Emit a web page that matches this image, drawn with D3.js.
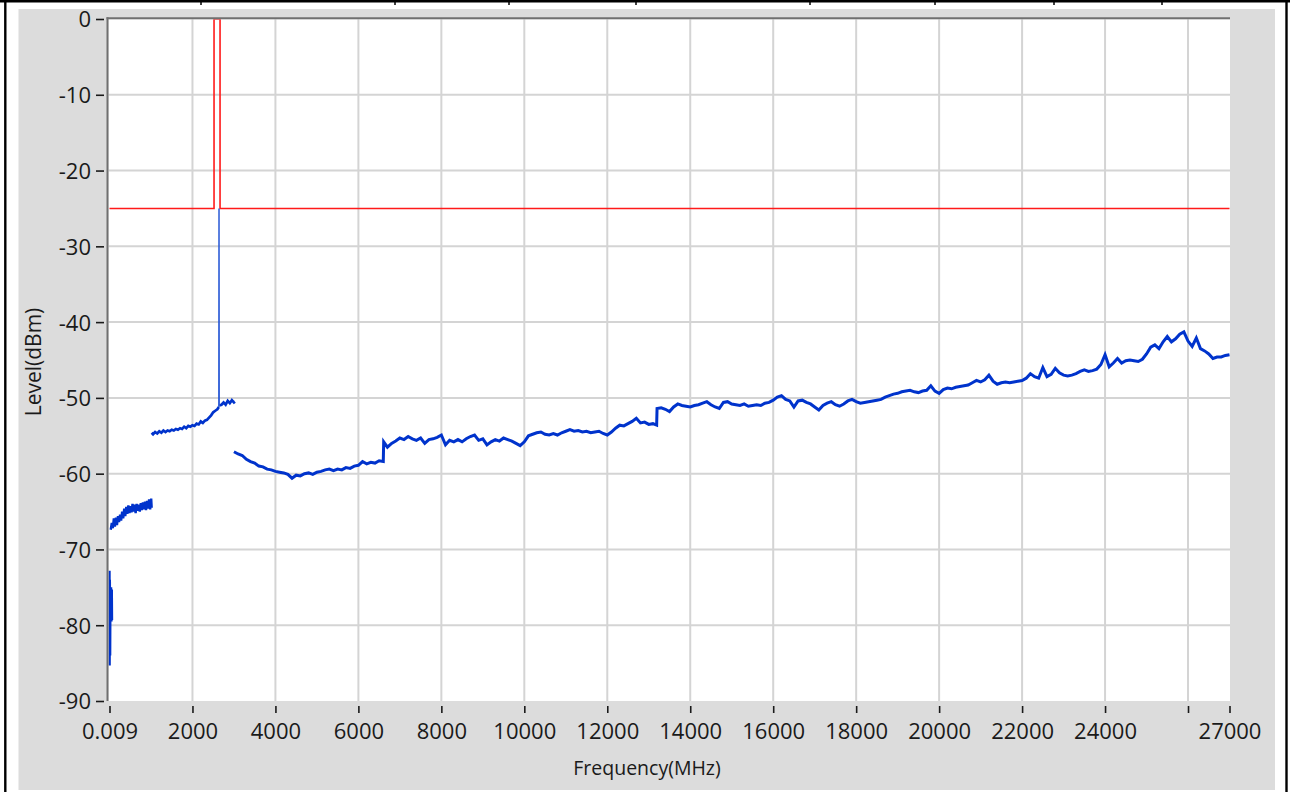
<!DOCTYPE html>
<html>
<head>
<meta charset="utf-8">
<script src="https://cdn.jsdelivr.net/npm/d3@7"></script>
<style>
  html, body { margin: 0; padding: 0; background: #ffffff; }
  svg { display: block; font-family: "Open Sans", "Noto Sans", sans-serif; }
</style>
</head>
<body>
<svg id="chart" width="1290" height="792"></svg>
<script>
// ---- axis definitions ----
const freqDomain = [0.009, 27000];
const levelDomain = [-90, 0];
const freqTicks = [0.009, 2000, 4000, 6000, 8000, 10000, 12000, 14000, 16000, 18000, 20000, 22000, 24000, 26000, 27000];
const freqTickLabels = ["0.009", "2000", "4000", "6000", "8000", "10000", "12000", "14000", "16000", "18000", "20000", "22000", "24000", "", "27000"];
const levelTicks = [0, -10, -20, -30, -40, -50, -60, -70, -80, -90];
const freqGrid = [2000, 4000, 6000, 8000, 10000, 12000, 14000, 16000, 18000, 20000, 22000, 24000, 26000];
const levelGrid = [-10, -20, -30, -40, -50, -60, -70, -80];

// ---- limit mask (MHz, dBm) ----
const limitFreq  = [0.009, 2520, 2520, 2665, 2665, 27000];
const limitLevel = [-25,   -25,  0,    0,    -25,  -25];

// ---- measured trace, sweep segments (MHz, dBm) ----
const sweep1Freq  = [0.009, 3, 8, 15, 22, 30, 38, 46, 55, 60];
const sweep1Level = [-72.8, -85.3, -74.0, -84.0, -75.2, -79.4, -75.0, -79.5, -75.3, -79.3];

const sweep2Freq  = [30, 55, 80, 105, 130, 155, 180, 205, 230, 255, 280, 305, 330, 355, 380, 405, 430, 455, 480, 505, 530, 555, 580, 605, 630, 655, 680, 705, 730, 755, 780, 805, 830, 855, 880, 905, 930, 955, 980, 1005, 1017];
const sweep2Level = [-67.4, -66.5, -67.2, -65.9, -67.0, -65.8, -66.8, -65.6, -66.4, -65.4, -66.2, -65.0, -65.9, -64.6, -65.6, -64.4, -65.3, -64.2, -65.2, -64.3, -65.1, -64.0, -65.0, -64.1, -65.2, -64.0, -64.9, -64.1, -65.0, -63.9, -64.8, -63.8, -64.7, -63.7, -64.8, -63.6, -64.6, -63.4, -64.7, -63.3, -64.5];

const sweep3Freq  = [1017, 1050, 1100, 1150, 1200, 1250, 1300, 1350, 1400, 1450, 1500, 1550, 1600, 1650, 1700, 1750, 1800, 1850, 1900, 1950, 2000, 2050, 2100, 2150, 2200, 2250, 2300, 2350, 2400, 2450, 2500, 2550, 2600, 2636, 2640, 2644, 2700, 2750, 2800, 2850, 2900, 2950, 3000, 3025];
const sweep3Level = [-54.6, -54.8, -54.5, -54.7, -54.4, -54.6, -54.3, -54.5, -54.3, -54.4, -54.2, -54.3, -54.1, -54.2, -54.0, -54.1, -53.8, -54.0, -53.7, -53.8, -53.6, -53.7, -53.4, -53.5, -53.1, -53.3, -53.0, -52.9, -52.6, -52.3, -51.9, -51.7, -51.5, -51.2, -25.0, -51.0, -50.9, -50.6, -50.9, -50.4, -50.7, -50.3, -50.6, -50.5];

const sweep4Freq  = [
  3000, 3100, 3200, 3300, 3400, 3500, 3600, 3700, 3800, 3900,
  4000, 4100, 4200, 4300, 4400, 4500, 4600, 4700, 4800, 4900,
  5000, 5100, 5200, 5300, 5400, 5500, 5600, 5700, 5800, 5900,
  6000, 6100, 6200, 6300, 6400, 6500, 6600, 6610, 6700, 6800, 6900,
  7000, 7100, 7200, 7300, 7400, 7500, 7600, 7700, 7800, 7900,
  8000, 8100, 8200, 8300, 8400, 8500, 8600, 8700, 8800, 8900,
  9000, 9100, 9200, 9300, 9400, 9500, 9600, 9700, 9800, 9900,
  10000, 10100, 10200, 10300, 10400, 10500, 10600, 10700, 10800, 10900,
  11000, 11100, 11200, 11300, 11400, 11500, 11600, 11700, 11800, 11900,
  12000, 12100, 12200, 12300, 12400, 12500, 12600, 12700, 12800, 12900,
  13000, 13100, 13190, 13200, 13300, 13400, 13500, 13600, 13700, 13800, 13900,
  14000, 14100, 14200, 14300, 14400, 14500, 14600, 14700, 14800, 14900,
  15000, 15100, 15200, 15300, 15400, 15500, 15600, 15700, 15800, 15900,
  16000, 16100, 16200, 16300, 16400, 16500, 16600, 16700, 16800, 16900,
  17000, 17100, 17200, 17300, 17400, 17500, 17600, 17700, 17800, 17900,
  18000, 18100, 18200, 18300, 18400, 18500, 18600, 18700, 18800, 18900,
  19000, 19100, 19200, 19300, 19400, 19500, 19600, 19700, 19800, 19900,
  20000, 20100, 20200, 20300, 20400, 20500, 20600, 20700, 20800, 20900,
  21000, 21100, 21200, 21300, 21400, 21500, 21600, 21700, 21800, 21900,
  22000, 22100, 22200, 22300, 22400, 22500, 22600, 22700, 22800, 22900,
  23000, 23100, 23200, 23300, 23400, 23500, 23600, 23700, 23800, 23900,
  24000, 24100, 24200, 24300, 24400, 24500, 24600, 24700, 24800, 24900,
  25000, 25100, 25200, 25300, 25400, 25500, 25600, 25700, 25800, 25900,
  26000, 26100, 26200, 26300, 26400, 26500, 26600, 26700, 26800, 26900,
  27000];
const sweep4Level = [
  -57.1, -57.4, -57.6, -58.1, -58.4, -58.6, -59.0, -59.1, -59.4, -59.5,
  -59.7, -59.8, -59.9, -60.1, -60.6, -60.2, -60.3, -60.0, -59.9, -60.1,
  -59.8, -59.7, -59.5, -59.4, -59.6, -59.4, -59.5, -59.2, -59.3, -59.0,
  -58.9, -58.4, -58.7, -58.5, -58.6, -58.3, -58.4, -55.8, -56.5, -56.0, -55.7,
  -55.3, -55.5, -55.1, -55.4, -55.6, -55.3, -56.0, -55.5, -55.4, -55.2,
  -54.9, -56.2, -55.6, -55.8, -55.5, -55.8, -55.4, -55.1, -54.9, -55.6,
  -55.4, -56.2, -55.8, -55.5, -55.7, -55.3, -55.5, -55.7, -56.0, -56.3,
  -55.8, -55.0, -54.8, -54.6, -54.5, -54.8, -54.9, -54.7, -54.9, -54.6,
  -54.4, -54.2, -54.4, -54.3, -54.5, -54.4, -54.6, -54.5, -54.4, -54.7,
  -54.9, -54.5, -54.0, -53.6, -53.7, -53.4, -53.1, -52.7, -53.3, -53.2,
  -53.5, -53.4, -53.6, -51.4, -51.3, -51.5, -51.8, -51.2, -50.8, -51.0, -51.1,
  -51.2, -51.0, -50.9, -50.7, -50.5, -50.9, -51.2, -51.4, -50.6, -50.5,
  -50.8, -50.9, -51.0, -50.8, -51.1, -51.0, -50.9, -51.0, -50.7, -50.6,
  -50.3, -49.9, -49.7, -50.2, -50.4, -51.2, -50.4, -50.3, -50.6, -50.8,
  -51.2, -51.6, -51.0, -50.7, -50.5, -50.9, -51.1, -50.8, -50.4, -50.2,
  -50.5, -50.7, -50.6, -50.5, -50.4, -50.3, -50.2, -49.9, -49.7, -49.5,
  -49.4, -49.2, -49.1, -49.0, -49.2, -49.3, -49.1, -49.0, -48.4, -49.1,
  -49.4, -48.9, -48.7, -48.8, -48.6, -48.5, -48.4, -48.3, -48.0, -47.7,
  -47.9, -47.6, -47.0, -47.8, -48.2, -48.0, -47.9, -48.0, -47.9, -47.8,
  -47.7, -47.4, -46.8, -47.2, -47.4, -46.0, -47.2, -46.9, -46.1, -46.7,
  -47.0, -47.1, -47.0, -46.8, -46.5, -46.3, -46.5, -46.4, -46.2, -45.6,
  -44.3, -45.9, -45.4, -44.8, -45.4, -45.1, -45.0, -45.1, -45.2, -44.9,
  -44.2, -43.3, -43.0, -43.5, -42.6, -41.9, -42.6, -42.2, -41.6, -41.3,
  -42.5, -43.2, -42.1, -43.5, -43.8, -44.2, -44.8, -44.6, -44.6, -44.4,
  -44.3];

// ---- layout ----
const svg = d3.select("#chart");
const W = 1290, H = 792;
const plot = { left: 108.5, right: 1230, top: 19.3, bottom: 701 };

const x = d3.scaleLinear().domain(freqDomain).range([109.5, 1229.5]);
const y = d3.scaleLinear().domain(levelDomain).range([701, 19]);

// page frame (table borders)
svg.append("rect").attr("x", 0).attr("y", 0).attr("width", W).attr("height", H).attr("fill", "#ffffff");
svg.append("rect").attr("x", 18.5).attr("y", 9).attr("width", 1256.5).attr("height", 781).attr("fill", "#dcdcdc");
svg.append("line").attr("x1", 0).attr("x2", W).attr("y1", 1.2).attr("y2", 1.2).attr("stroke", "#000").attr("stroke-width", 2.4);
svg.append("line").attr("x1", 5.3).attr("x2", 5.3).attr("y1", 0).attr("y2", H).attr("stroke", "#000").attr("stroke-width", 2.4);
svg.append("line").attr("x1", 1286.5).attr("x2", 1286.5).attr("y1", 0).attr("y2", H).attr("stroke", "#000").attr("stroke-width", 2.4);
[201, 395, 509, 636, 810, 935, 1054, 1162].forEach(px => {
  svg.append("line").attr("x1", px).attr("x2", px).attr("y1", 0).attr("y2", 5)
    .attr("stroke", "#000").attr("stroke-width", 1.5);
});

// plot background
svg.append("rect")
  .attr("x", plot.left).attr("y", plot.top)
  .attr("width", plot.right - plot.left).attr("height", plot.bottom - plot.top)
  .attr("fill", "#ffffff");

svg.append("clipPath").attr("id", "plotClip")
  .append("rect")
  .attr("x", plot.left).attr("y", plot.top)
  .attr("width", plot.right - plot.left).attr("height", plot.bottom - plot.top);

// grid
const grid = svg.append("g").attr("stroke", "#d4d4d4").attr("stroke-width", 2);
grid.selectAll("line.v").data(freqGrid).join("line").attr("class", "v")
  .attr("x1", d => x(d)).attr("x2", d => x(d))
  .attr("y1", plot.top).attr("y2", plot.bottom);
grid.selectAll("line.h").data(levelGrid).join("line").attr("class", "h")
  .attr("x1", plot.left).attr("x2", plot.right)
  .attr("y1", d => y(d)).attr("y2", d => y(d));

// traces
const zip = (fs, ls) => fs.map((f, i) => [f, ls[i]]);
const line = d3.line().x(d => x(d[0])).y(d => y(d[1]));
const traces = svg.append("g").attr("clip-path", "url(#plotClip)").attr("fill", "none");

traces.append("path").datum(zip(limitFreq, limitLevel))
  .attr("d", line).attr("stroke", "#ff1a1a").attr("stroke-width", 1.6);

const traceColor = "#0033cc";
[[sweep1Freq, sweep1Level, 2.4], [sweep2Freq, sweep2Level, 2.4], [sweep4Freq, sweep4Level, 3.0]]
  .forEach(([fs, ls, w]) => {
    traces.append("path").datum(zip(fs, ls))
      .attr("d", line)
      .attr("stroke", traceColor).attr("stroke-width", w)
      .attr("stroke-linejoin", "miter");
  });

// 1-3 GHz sweep: noise floor drawn heavy, the narrow carrier spike drawn as a thin stroke
const sweep3 = zip(sweep3Freq, sweep3Level);
const peakIdx = d3.maxIndex(sweep3Level);
traces.append("path").datum(sweep3.slice(0, peakIdx)).attr("d", line)
  .attr("stroke", traceColor).attr("stroke-width", 2.7);
traces.append("path").datum(sweep3.slice(peakIdx + 1)).attr("d", line)
  .attr("stroke", traceColor).attr("stroke-width", 2.7);
traces.append("path").datum(sweep3.slice(peakIdx - 1, peakIdx + 2)).attr("d", line)
  .attr("stroke", "#2a5ad6").attr("stroke-width", 1.5);

// plot frame (sunken: dark top & left edges)
svg.append("line").attr("x1", plot.left - 2).attr("x2", plot.right).attr("y1", 18.3).attr("y2", 18.3)
  .attr("stroke", "#707070").attr("stroke-width", 2);
svg.append("line").attr("x1", 107.5).attr("x2", 107.5).attr("y1", 17.3).attr("y2", plot.bottom)
  .attr("stroke", "#707070").attr("stroke-width", 2);

// axes
const yAxis = d3.axisLeft(y).tickValues(levelTicks).tickFormat(d => String(d)).tickSize(8).tickPadding(5);
const gy = svg.append("g").attr("transform", "translate(104,0)").call(yAxis);
gy.select(".domain").remove();
gy.selectAll(".tick line").attr("stroke", "#1a1a1a").attr("stroke-width", 1.6);
gy.selectAll(".tick text").attr("fill", "#1a1a1a").style("font-size", "22px")
  .style("font-family", "'Open Sans','Noto Sans',sans-serif").attr("dy", "0.36em");

const xAxis = d3.axisBottom(x).tickValues(freqTicks)
  .tickFormat((d, i) => freqTickLabels[i]).tickSize(7).tickPadding(10);
const gx = svg.append("g").attr("transform", "translate(0,706)").call(xAxis);
gx.select(".domain").remove();
gx.selectAll(".tick line").attr("stroke", "#1a1a1a").attr("stroke-width", 1.6);
gx.selectAll(".tick text").attr("fill", "#1a1a1a").style("font-size", "22px")
  .style("font-family", "'Open Sans','Noto Sans',sans-serif");

// axis titles
svg.append("text").attr("x", 647).attr("y", 775).attr("text-anchor", "middle")
  .attr("fill", "#1a1a1a").style("font-size", "19.5px").text("Frequency(MHz)");
svg.append("text").attr("transform", "translate(41,362) rotate(-90)").attr("text-anchor", "middle")
  .attr("fill", "#1a1a1a").style("font-size", "21px").text("Level(dBm)");
</script>
</body>
</html>
